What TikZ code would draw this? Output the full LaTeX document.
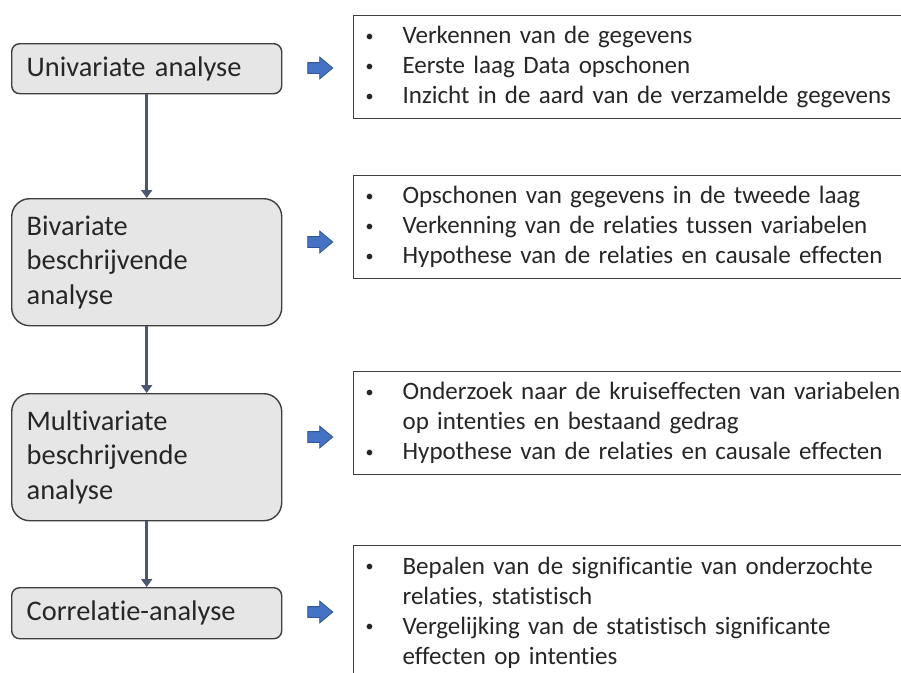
\documentclass[tikz,border=0pt]{standalone}
\usepackage{fontspec}
\setmainfont{Carlito}[Ligatures={NoCommon}]
\usetikzlibrary{positioning}
\usetikzlibrary{shapes.arrows}
\usetikzlibrary{arrows.meta}

\definecolor{boxgray}{HTML}{E6E6E6}
\definecolor{edgegray}{HTML}{3F3F3F}
\definecolor{linkslate}{HTML}{4B5670}
\definecolor{arrowblue}{HTML}{4472C4}
\definecolor{arrowedge}{HTML}{2F5597}

\newcommand{\bitem}{\makebox[37pt][l]{\raisebox{2.5pt}{\fontsize{16}{16}\selectfont\textbullet}}}
\newcommand{\bcont}{\hspace*{37pt}}

\begin{document}
\begin{tikzpicture}[x=1pt,y=-1pt,
    stage/.style={draw=edgegray, line width=1.4pt, fill=boxgray, rectangle,
        text width=240pt, inner xsep=15pt, inner ysep=0pt, minimum width=270pt,
        align=left, anchor=north west, text=black!85,
        font=\fontsize{28.4}{34.5}\selectfont},
    info/.style={draw=edgegray, line width=1.2pt, rectangle, fill=white,
        text width=560pt, inner xsep=12pt, inner ysep=0pt,
        align=left, anchor=north west, text=black!85,
        font=\fontsize{25}{30}\selectfont},
    bluearrow/.style={single arrow, draw=arrowedge, fill=arrowblue, line width=0.8pt,
        inner sep=5pt, minimum height=25pt, single arrow head extend=5.5pt,
        single arrow tip angle=80},
    flow/.style={draw=linkslate, line width=3.5pt, -{Triangle[width=11pt,length=8pt]}}
]
    \useasboundingbox[fill=white] (0,0) rectangle (901,672);

    \node[stage, minimum height=50pt, rounded corners=8pt] (uni) at (11,43) {Univariate analyse};
    \node[stage, minimum height=127pt, rounded corners=18pt] (biv) at (11,198) {Bivariate\\beschrijvende\\analyse};
    \node[stage, minimum height=127pt, rounded corners=18pt] (multi) at (11,393) {Multivariate\\beschrijvende\\analyse};
    \node[stage, minimum height=51pt, rounded corners=8pt] (corr) at (11,587) {Correlatie-analyse};

    \draw[flow] (uni) -- (biv);
    \draw[flow] (biv) -- (multi);
    \draw[flow] (multi) -- (corr);

\foreach \n/\y in {1/68,2/242,3/437,4/612}
{
    \node[bluearrow] (arr\n) at (317,\y) {};
}

    \node[info, minimum height=103pt] (info1) at (353,15)
        {\bitem Verkennen van de gegevens\\
         \bitem Eerste laag Data opschonen\\
         \bitem Inzicht in de aard van de verzamelde gegevens};
    \node[info, minimum height=103pt] (info2) at (353,175)
        {\bitem Opschonen van gegevens in de tweede laag\\
         \bitem Verkenning van de relaties tussen variabelen\\
         \bitem Hypothese van de relaties en causale effecten};
    \node[info, minimum height=103pt] (info3) at (353,371)
        {\bitem Onderzoek naar de kruiseffecten van variabelen\\
         \bcont op intenties en bestaand gedrag\\
         \bitem Hypothese van de relaties en causale effecten};
    \node[info, minimum height=134pt] (info4) at (353,545)
        {\bitem Bepalen van de significantie van onderzochte\\
         \bcont relaties, statistisch\\
         \bitem Vergelijking van de statistisch significante\\
         \bcont effecten op intenties};

\end{tikzpicture}
\end{document}
